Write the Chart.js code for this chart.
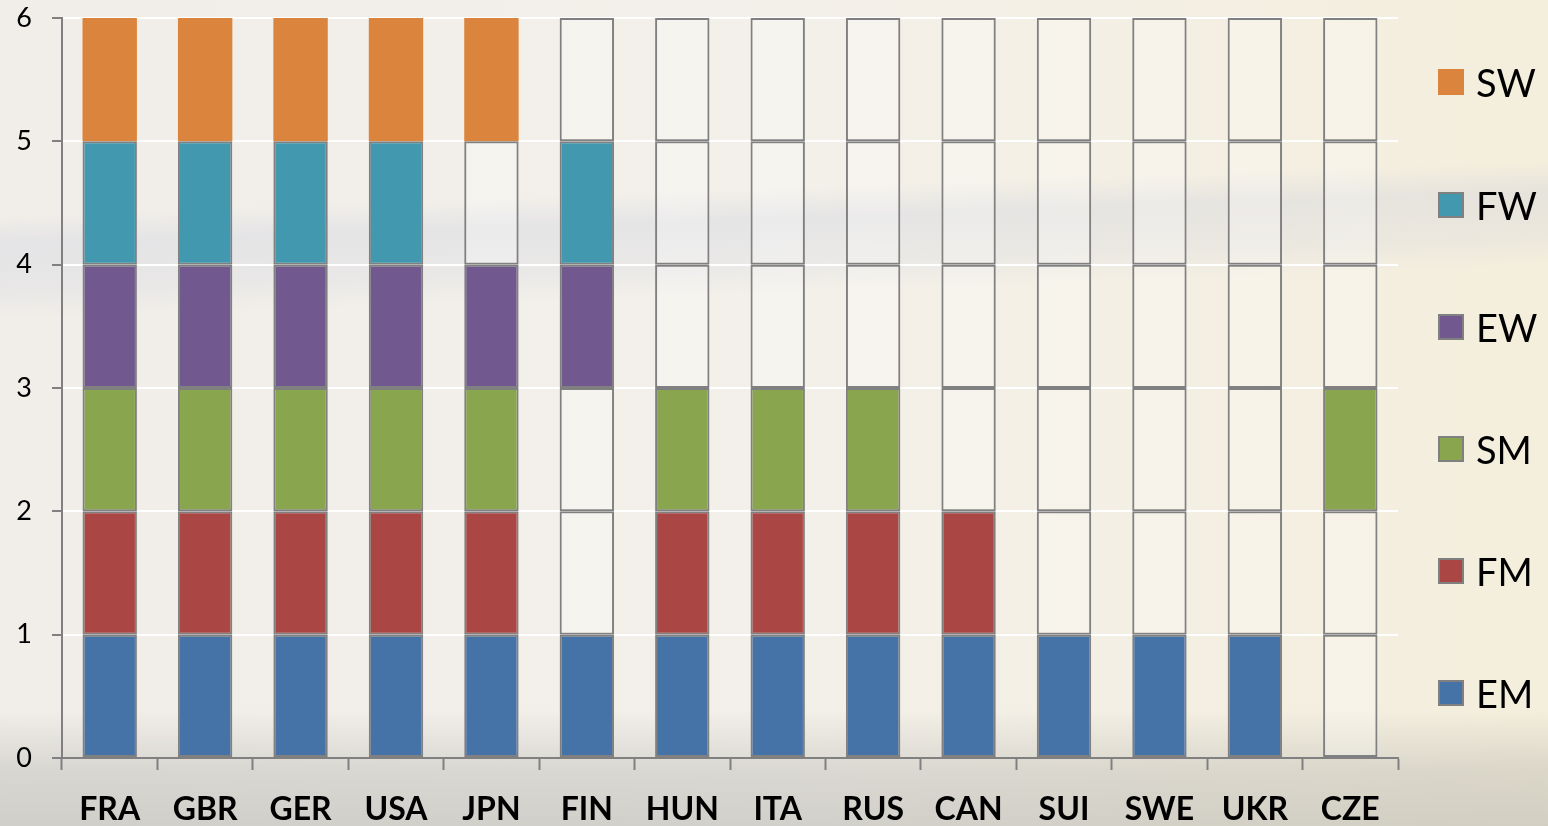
<!DOCTYPE html>
<html>
<head>
<meta charset="utf-8">
<script src="https://cdn.jsdelivr.net/npm/chart.js@4/dist/chart.umd.min.js"></script>
<style>
html,body{margin:0;padding:0;}
body{width:1548px;height:826px;overflow:hidden;position:relative;
background:
 linear-gradient(180deg, rgba(0,0,0,0) 0px, rgba(0,0,0,0) 710px, rgba(160,160,155,0.30) 770px, rgba(160,160,155,0.40) 826px),
 linear-gradient(178deg, rgba(0,0,0,0) 215px, rgba(195,200,220,0.28) 245px, rgba(195,200,220,0.18) 290px, rgba(0,0,0,0) 320px),
 linear-gradient(90deg, #f1eee9 0%, #f3f0ea 50%, #f4eedc 100%);
}
#wrap{position:absolute;left:0;top:0;width:1548px;height:826px;}
#legend{position:absolute;left:1438px;top:0;font-family:Lato,"Open Sans",sans-serif;}
.li{position:absolute;left:0;height:40px;display:flex;align-items:center;white-space:nowrap;}
.li .bx{width:26px;height:26px;box-sizing:border-box;margin-right:12px;}
.li span{font-size:38px;color:#000;}
</style>
</head>
<body>
<div id="wrap"><canvas id="c" width="1548" height="826"></canvas></div>
<div id="legend"></div>
<script>
const categories = ["FRA","GBR","GER","USA","JPN","FIN","HUN","ITA","RUS","CAN","SUI","SWE","UKR","CZE"];
const seriesNames = ["EM","FM","SM","EW","FW","SW"];
const seriesColors = ["#4572A7","#AA4643","#89A54E","#71588F","#4198AF","#DB843D"];
// value of each slot segment (each event slot counts 1)
const slotEM = [1,1,1,1,1,1,1,1,1,1,1,1,1,1];
const slotFM = [1,1,1,1,1,1,1,1,1,1,1,1,1,1];
const slotSM = [1,1,1,1,1,1,1,1,1,1,1,1,1,1];
const slotEW = [1,1,1,1,1,1,1,1,1,1,1,1,1,1];
const slotFW = [1,1,1,1,1,1,1,1,1,1,1,1,1,1];
const slotSW = [1,1,1,1,1,1,1,1,1,1,1,1,1,1];
// whether the country qualified (filled) in each event
const filledEM = [1,1,1,1,1,1,1,1,1,1,1,1,1,0];
const filledFM = [1,1,1,1,1,0,1,1,1,1,0,0,0,0];
const filledSM = [1,1,1,1,1,0,1,1,1,0,0,0,0,1];
const filledEW = [1,1,1,1,1,1,0,0,0,0,0,0,0,0];
const filledFW = [1,1,1,1,0,1,0,0,0,0,0,0,0,0];
const filledSW = [1,1,1,1,1,0,0,0,0,0,0,0,0,0];
const yTicks = [0,1,2,3,4,5,6];

const slots = [slotEM,slotFM,slotSM,slotEW,slotFW,slotSW];
const filled = [filledEM,filledFM,filledSM,filledEW,filledFW,filledSW];
const EMPTY = "rgba(255,255,255,0.25)";
const BORDER = "#808080";

const datasets = seriesNames.map((name,i)=>({
  label:name,
  data:slots[i],
  backgroundColor:filled[i].map(f=>f?seriesColors[i]:EMPTY),
  borderColor:BORDER,
  borderWidth:filled[i].map(f=>(name==="SW"&&f)?0:2),
  borderSkipped:false,
  barPercentage:0.57,
  categoryPercentage:1.0,
  stack:"s"
}));

new Chart(document.getElementById("c"),{
  type:"bar",
  data:{labels:categories,datasets},
  options:{
    responsive:false,animation:false,
    layout:{padding:{left:0,right:150,top:18,bottom:0}},
    plugins:{legend:{display:false},tooltip:{enabled:false}},
    scales:{
      x:{stacked:true,
        grid:{drawOnChartArea:false,drawTicks:true,tickLength:12,tickColor:BORDER,tickWidth:2,offset:true},
        border:{color:BORDER,width:2},
        ticks:{color:"#000",font:{family:"Lato",size:32,weight:"bold"},padding:20,maxRotation:0},
        afterFit:s=>{s.height=68;s.paddingLeft=0;s.paddingRight=0;}
      },
      y:{stacked:true,min:0,max:6,
        afterBuildTicks:s=>{s.ticks=yTicks.map(v=>({value:v}));},
        grid:{color:"#ffffff",lineWidth:2,drawTicks:true,tickLength:10,tickColor:BORDER,tickWidth:2},
        border:{color:BORDER,width:2},
        ticks:{color:"#000",font:{family:"Lato",size:27},padding:20},
        afterFit:s=>{s.width=62;s.paddingTop=0;s.paddingBottom=0;}
      }
    }
  }
});

const lg=document.getElementById("legend");
const centers=[693,571,449,327,205,82];
seriesNames.forEach((n,i)=>{
  const d=document.createElement("div");d.className="li";d.style.top=(centers[i]-20)+"px";
  const b=document.createElement("div");b.className="bx";b.style.background=seriesColors[i];
  if(n!=="SW")b.style.border="2px solid "+BORDER;
  const t=document.createElement("span");t.textContent=n;
  d.appendChild(b);d.appendChild(t);lg.appendChild(d);
});
</script>
</body>
</html>
